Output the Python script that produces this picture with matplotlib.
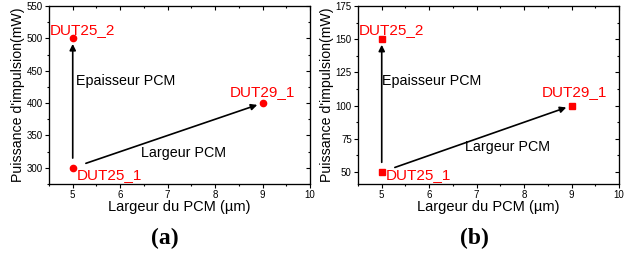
import matplotlib
matplotlib.use('Agg')
import matplotlib.pyplot as plt
from matplotlib.ticker import MultipleLocator

plt.rcParams['font.family'] = ['Liberation Sans', 'DejaVu Sans']

# données
largeur = [5, 5, 9]
noms = ['DUT25_1', 'DUT25_2', 'DUT29_1']
puissance_a = [300, 500, 400]
puissance_b = [50, 150, 100]

ylims = [(275, 550), (41, 175)]
ymajor = [50, 25]
markers = ['o', 's']
panel_labels = ['(a)', '(b)']

# positions des textes (coordonnées données)
txt_pos = [
    {'DUT25_2': (4.52, 513), 'DUT25_1': (5.09, 289), 'DUT29_1': (8.31, 417),
     'Epaisseur PCM': (5.07, 434), 'Largeur PCM': (6.44, 323)},
    {'DUT25_2': (4.52, 157), 'DUT25_1': (5.09, 47.7), 'DUT29_1': (8.38, 110),
     'Epaisseur PCM': (5.0, 118.5), 'Largeur PCM': (6.75, 69)},
]

fig = plt.figure(figsize=(6.28, 2.62), dpi=100)
lefts = [49 / 628, 358 / 628]

for k, yvals in enumerate([puissance_a, puissance_b]):
    ax = fig.add_axes([lefts[k], 78 / 262, 261 / 628, 178 / 262])
    ax.plot(largeur, yvals, linestyle='none', marker=markers[k],
            color='red', markersize=4.5 if k == 0 else 4.2)
    ax.set_xlim(4.5, 10)
    ax.set_ylim(*ylims[k])
    ax.xaxis.set_major_locator(MultipleLocator(1))
    ax.xaxis.set_minor_locator(MultipleLocator(0.5))
    ax.yaxis.set_major_locator(MultipleLocator(ymajor[k]))
    ax.yaxis.set_minor_locator(MultipleLocator(ymajor[k] / 2))
    ax.tick_params(which='both', direction='out', labelsize=7, pad=1.5, width=0.8)
    ax.tick_params(which='major', length=3)
    ax.tick_params(which='minor', length=1.5)
    for s in ax.spines.values():
        s.set_linewidth(0.8)

    # axes miroirs (ticks vers l'intérieur)
    axt = ax.twiny()
    axt.set_xlim(ax.get_xlim())
    axt.xaxis.set_major_locator(MultipleLocator(1))
    axt.xaxis.set_minor_locator(MultipleLocator(0.5))
    axt.tick_params(which='both', direction='in', labeltop=False, width=0.8)
    axt.tick_params(which='major', length=3)
    axt.tick_params(which='minor', length=1.5)
    axr = ax.twinx()
    axr.set_ylim(ax.get_ylim())
    axr.yaxis.set_major_locator(MultipleLocator(ymajor[k]))
    axr.yaxis.set_minor_locator(MultipleLocator(ymajor[k] / 2))
    axr.tick_params(which='both', direction='in', labelright=False, width=0.8)
    axr.tick_params(which='major', length=3)
    axr.tick_params(which='minor', length=1.5)

    ax.set_xlabel('Largeur du PCM (µm)', fontsize=10.5, labelpad=0)
    ax.set_ylabel("Puissance d'impulsion(mW)", fontsize=10.2, labelpad=1)

    # textes des points
    for n in noms:
        x, y = txt_pos[k][n]
        ax.text(x, y, n, color='red', fontsize=11, ha='left', va='center', zorder=5)
    for n in ['Epaisseur PCM', 'Largeur PCM']:
        x, y = txt_pos[k][n]
        ax.text(x, y, n, color='black', fontsize=10.3, ha='left', va='center')

    # flèches
    ax.annotate('', xy=(largeur[1], yvals[1]), xytext=(largeur[0], yvals[0]),
                arrowprops=dict(arrowstyle='-|>', color='black', lw=1.2,
                                mutation_scale=9, shrinkA=7, shrinkB=4))
    ax.annotate('', xy=(largeur[2], yvals[2]), xytext=(largeur[0], yvals[0]),
                arrowprops=dict(arrowstyle='-|>', color='black', lw=1.2,
                                mutation_scale=9, shrinkA=10, shrinkB=4))

    fig.text(lefts[k] + 116 / 628, 1 - 238 / 262, panel_labels[k],
             family=['Liberation Serif', 'DejaVu Serif'], fontweight='bold',
             fontsize=17, ha='center', va='center')

fig.savefig('out.png', dpi=100)
